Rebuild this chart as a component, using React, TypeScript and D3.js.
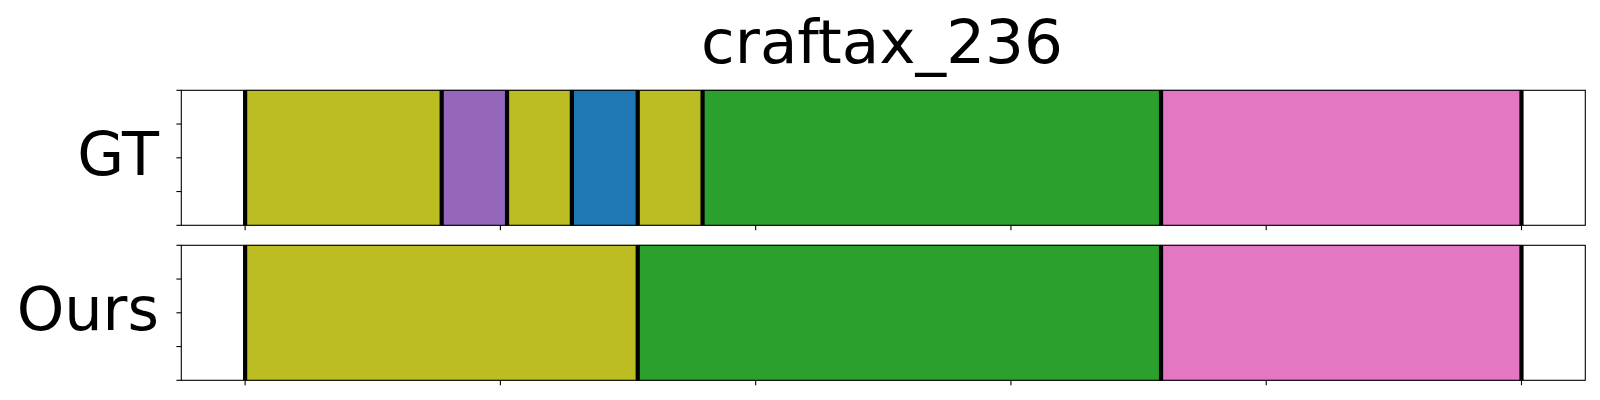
import React from "react";
import * as d3 from "d3";

const title = "craftax_236";
const rowLabels = ["GT", "Ours"];
// segment boundaries (data units) and segment colours per row
const gtBounds = [0, 38.5, 51.3, 64, 76.9, 89.6, 179.4, 250];
const gtColors = ["#bcbd22", "#9467bd", "#bcbd22", "#1f77b4", "#bcbd22", "#2ca02c", "#e377c2"];
const oursBounds = [0, 76.9, 179.4, 250];
const oursColors = ["#bcbd22", "#2ca02c", "#e377c2"];
const xTicks = [0, 50, 100, 150, 200, 250];
const yTicks = [0, 0.25, 0.5, 0.75, 1];

const rows = [
  { label: rowLabels[0], bounds: gtBounds, colors: gtColors, top: 90.3, bottom: 225.3 },
  { label: rowLabels[1], bounds: oursBounds, colors: oursColors, top: 245.3, bottom: 380.3 },
];

export default function App() {
  const x = d3.scaleLinear().domain([-12.5, 262.5]).range([181.3, 1585.3]);
  const font = "DejaVu Sans, sans-serif";
  return (
    <svg width={1600} height={400} style={{ position: "absolute", left: 0, top: 0 }}>
      <rect x={0} y={0} width={1600} height={400} fill="#fff" />
      <text x={882} y={63} textAnchor="middle" fontFamily={font} fontSize={61.2} fill="#000">
        {title}
      </text>
      {rows.map((r, ri) => {
        const y = d3.scaleLinear().domain([0, 1]).range([r.bottom, r.top]);
        const segs = r.colors.map((c, i) => ({ c, x0: r.bounds[i], x1: r.bounds[i + 1] }));
        return (
          <g key={ri}>
            {segs.map((s, i) => (
              <rect
                key={i}
                x={x(s.x0)}
                y={y(1)}
                width={x(s.x1) - x(s.x0)}
                height={y(0) - y(1)}
                fill={s.c}
                stroke={d3.color(s.c)!.darker(0.25).toString()}
                strokeWidth={1}
              />
            ))}
            {r.bounds.map((b, i) => (
              <line key={i} x1={x(b)} x2={x(b)} y1={y(1)} y2={y(0)} stroke="#000" strokeWidth={4.2} />
            ))}
            <rect
              x={x(-12.5)}
              y={y(1)}
              width={x(262.5) - x(-12.5)}
              height={y(0) - y(1)}
              fill="none"
              stroke="#000"
              strokeWidth={1.1}
            />
            {yTicks.map((t, i) => (
              <line key={i} x1={x(-12.5) - 4.9} x2={x(-12.5)} y1={y(t)} y2={y(t)} stroke="#000" strokeWidth={1.1} />
            ))}
            {xTicks.map((t, i) => (
              <line key={i} x1={x(t)} x2={x(t)} y1={y(0)} y2={y(0) + 4.9} stroke="#000" strokeWidth={1.1} />
            ))}
            <text
              x={159}
              y={ri === 0 ? 175 : 330}
              textAnchor="end"
              fontFamily={font}
              fontSize={60.5}
              fill="#000"
            >
              {r.label}
            </text>
          </g>
        );
      })}
    </svg>
  );
}
